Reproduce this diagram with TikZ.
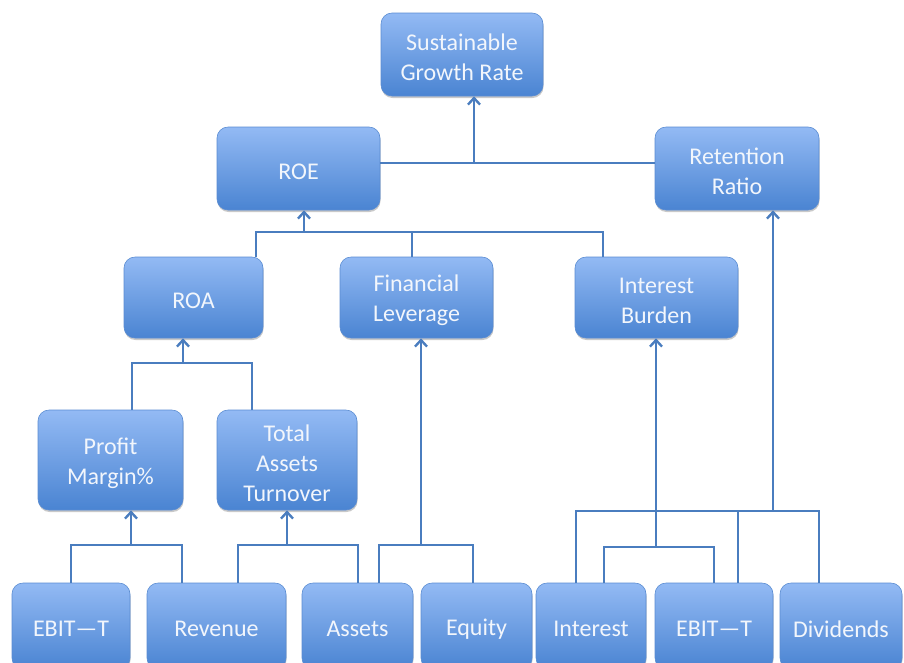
\documentclass[tikz,border=0pt]{standalone}
\usepackage{fontspec}
\setmainfont{Carlito}
\usetikzlibrary{arrows.meta,shadows}
\definecolor{boxtop}{HTML}{93BAF4}
\definecolor{boxbot}{HTML}{4A84D2}
\definecolor{boxline}{HTML}{5A8CD2}
\definecolor{wire}{HTML}{4A7DBF}
\definecolor{labeltext}{HTML}{F2F6FC}
\begin{document}
\begin{tikzpicture}[x=1pt,y=-1pt,
  box/.style={rounded corners=11pt, draw=boxline, line width=0.6pt,
    top color=boxtop, bottom color=boxbot, inner sep=0pt,
    drop shadow={shadow xshift=0.5pt, shadow yshift=-2pt, opacity=0.3, fill=black!70}},
  lbl/.style={text=labeltext, align=center, inner sep=0pt, yshift=-3pt,
    font=\fontsize{24}{30}\selectfont},
  txt/.style={label={[lbl]center:{#1}}},
  sz/.style 2 args={minimum width=#1 pt, minimum height=#2 pt},
  link/.style={draw=wire, line width=2.8pt, line join=miter},
  arr/.style={link, -{Straight Barb[length=6.5pt,width=12pt,line width=2.4pt]}}]
\useasboundingbox (0,0) rectangle (904,662);

% boxes
\node[box, sz={162}{83}, txt={Sustainable\\Growth Rate}] (sgr) at (462,54.5) {};
\node[box, sz={163}{83}, txt={ROE}] (roe) at (298.5,168.5) {};
\node[box, sz={164}{83}, txt={Retention\\Ratio}] (rr) at (737,168.5) {};
\node[box, sz={139}{81}, txt={ROA}] (roa) at (193.5,297.5) {};
\node[box, sz={153}{81}, txt={Financial\\Leverage}] (fl) at (416.5,297.5) {};
\node[box, sz={163}{81}, txt={Interest\\Burden}] (ib) at (656.5,297.5) {};
\node[box, sz={145}{100}, txt={Profit\\Margin\%}] (pm) at (110.5,460) {};
\node[box, sz={140}{100}, txt={Total\\Assets\\Turnover}] (tat) at (287,460) {};
\node[box, sz={118}{86}, txt={EBIT—T}] (b1) at (71,626) {};
\node[box, sz={139}{86}, txt={Revenue}] (b2) at (216.5,626) {};
\node[box, sz={111}{86}, txt={Assets}] (b3) at (357.5,626) {};
\node[box, sz={111}{86}, txt={Equity}] (b4) at (476.5,626) {};
\node[box, sz={110}{86}, txt={Interest}] (b5) at (591,626) {};
\node[box, sz={118}{86}, txt={EBIT—T}] (b6) at (714,626) {};
\node[box, sz={122}{86}, txt={Dividends}] (b7) at (841,626) {};

% ROE and retention ratio feed the growth rate
\coordinate (t0) at (474,163);
\draw[link] ([yshift=5.5pt]roe.east) -- ([yshift=5.5pt]rr.west);
\draw[arr] (t0) -- (t0 |- sgr.south);

% ROA, leverage and interest burden feed ROE
\coordinate (r1) at (256,232);
\coordinate (r2) at (603,232);
\coordinate (ra) at (304,232);
\coordinate (rf) at (412,232);
\draw[link] (r1 |- roa.north) -- (r1) -- (r2) -- (r2 |- ib.north);
\draw[link] (rf) -- (rf |- fl.north);
\draw[arr] (ra) -- (ra |- roe.south);

% margin and turnover feed ROA
\coordinate (q1) at (132,363);
\coordinate (q2) at (252,363);
\coordinate (qa) at (183,363);
\draw[link] (q1 |- pm.north) -- (q1) -- (q2) -- (q2 |- tat.north);
\draw[arr] (qa) -- (qa |- roa.south);

% profit margin
\coordinate (p1) at (71,545);
\coordinate (p2) at (182,545);
\coordinate (pa) at (131,545);
\draw[link] (p1 |- b1.north) -- (p1) -- (p2) -- (p2 |- b2.north);
\draw[arr] (pa) -- (pa |- pm.south);

% total assets turnover
\coordinate (s1) at (238,545);
\coordinate (s2) at (358,545);
\coordinate (sa) at (287,545);
\draw[link] (s1 |- b2.north) -- (s1) -- (s2) -- (s2 |- b3.north);
\draw[arr] (sa) -- (sa |- tat.south);

% financial leverage
\coordinate (f1) at (379,545);
\coordinate (f2) at (473,545);
\coordinate (fa) at (421,545);
\draw[link] (f1 |- b3.north) -- (f1) -- (f2) -- (f2 |- b4.north);
\draw[arr] (fa) -- (fa |- fl.south);

% interest burden
\coordinate (i1) at (604,547);
\coordinate (i2) at (714,547);
\coordinate (ia) at (656,547);
\draw[link] (i1 |- b5.north) -- (i1) -- (i2) -- (i2 |- b6.north);
\draw[arr] (ia) -- (ia |- ib.south);

% retention ratio
\coordinate (e1) at (576,511);
\coordinate (e2) at (819,511);
\coordinate (e3) at (738,511);
\coordinate (ea) at (773,511);
\draw[link] (e1 |- b5.north) -- (e1) -- (e2) -- (e2 |- b7.north);
\draw[link] (e3) -- (e3 |- b6.north);
\draw[arr] (ea) -- (ea |- rr.south);
\end{tikzpicture}
\end{document}
